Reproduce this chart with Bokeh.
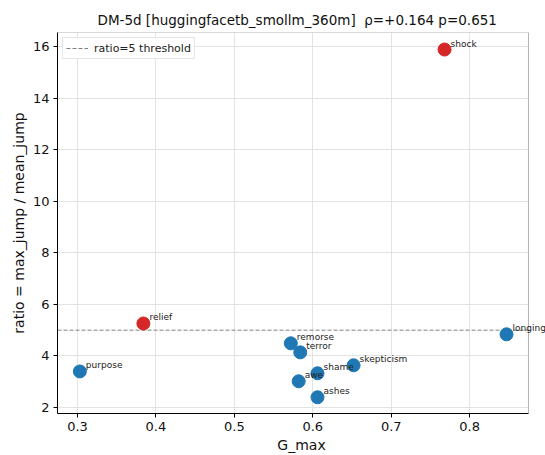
from bokeh.plotting import figure
from bokeh.models import ColumnDataSource, FixedTicker, Label, BoxAnnotation
from bokeh.embed import file_html
from bokeh.resources import INLINE

words = ["shock", "relief", "purpose", "remorse", "terror", "skepticism", "shame", "awe", "ashes", "longing"]
g_max = [0.768, 0.384, 0.303, 0.572, 0.584, 0.652, 0.606, 0.582, 0.606, 0.847]
ratio = [15.88, 5.26, 3.40, 4.49, 4.14, 3.64, 3.33, 3.02, 2.40, 4.84]
threshold = 5.0
x_ticks = [0.3, 0.4, 0.5, 0.6, 0.7, 0.8]
y_ticks = [2, 4, 6, 8, 10, 12, 14, 16]
title = "DM-5d [huggingfacetb_smollm_360m]\u00a0\u00a0ρ=+0.164 p=0.651"

# axes limits (the visible plotting box)
x_lo, x_hi = 0.2745, 0.875
y_lo, y_hi = 1.77, 16.54
# the canvas range extends past the right spine so that labels are not cut at it
x_canvas_hi = 0.8967

colors = ["#d62728" if r > threshold else "#1f77b4" for r in ratio]
src = ColumnDataSource(dict(x=g_max, y=ratio, w=words, c=colors))

FONT = "DejaVu Sans"
p = figure(width=545, height=455, output_backend="svg", toolbar_location=None,
           x_range=(x_lo, x_canvas_hi), y_range=(y_lo, y_hi),
           min_border_left=57, min_border_right=0, min_border_top=32, min_border_bottom=42,
           title=title)
p.title.text_font = FONT
p.title.text_font_size = "13.5px"
p.title.text_font_style = "normal"
p.title.text_color = "#111111"
p.title.align = "left"
p.title.offset = 40
p.outline_line_color = None

for ax in (p.xaxis[0], p.yaxis[0]):
    ax.major_label_text_font = FONT
    ax.major_label_text_font_size = "13px"
    ax.major_label_text_color = "#111111"
    ax.axis_label_text_font = FONT
    ax.axis_label_text_font_size = "14px"
    ax.axis_label_text_font_style = "normal"
    ax.axis_label_text_color = "#111111"
    ax.minor_tick_line_color = None
    ax.major_tick_in = 0
    ax.major_tick_out = 4
    ax.axis_line_color = "black"
    ax.major_tick_line_color = "black"
    ax.major_label_standoff = 4
    ax.axis_label_standoff = 3

p.xaxis.ticker = FixedTicker(ticks=x_ticks)
p.yaxis.ticker = FixedTicker(ticks=y_ticks)
p.xaxis.bounds = (x_lo, x_hi)
p.xaxis.axis_label = "G_max"
p.yaxis.axis_label = "ratio = max_jump / mean_jump"
p.xgrid.grid_line_color = "#e3e3e3"
p.ygrid.grid_line_color = "#e3e3e3"

p.line(x=[x_lo, x_hi], y=[threshold, threshold], line_color="gray", line_dash="4 2",
       line_width=1, legend_label="ratio=5 threshold")

p.scatter("x", "y", source=src, size=13, fill_color="c", line_color="c")

# blank out the area right of the axes box, then draw the box outline
p.add_layout(BoxAnnotation(left=x_hi, fill_color="white", fill_alpha=1.0, line_color=None,
                           level="annotation"))
p.add_layout(BoxAnnotation(left=x_lo, right=x_hi, bottom=y_lo, top=y_hi, fill_alpha=0.0,
                           line_color="black", line_width=1, level="overlay"))

for xv, yv, w in zip(g_max, ratio, words):
    p.add_layout(Label(x=xv, y=yv, text=w, x_offset=6, y_offset=1, level="overlay",
                       text_font=FONT, text_font_size="9px", text_baseline="bottom",
                       text_color="#222222"))

p.legend.location = "top_left"
p.legend.label_text_font = FONT
p.legend.label_text_font_size = "11px"
p.legend.label_text_color = "#222222"
p.legend.border_line_color = "#cccccc"
p.legend.padding = 3
p.legend.margin = 5
p.legend.spacing = 0
p.legend.glyph_height = 14
p.legend.glyph_width = 22
p.legend.label_height = 14
p.legend.label_standoff = 6

open("out.html", "w").write(file_html(p, INLINE))
